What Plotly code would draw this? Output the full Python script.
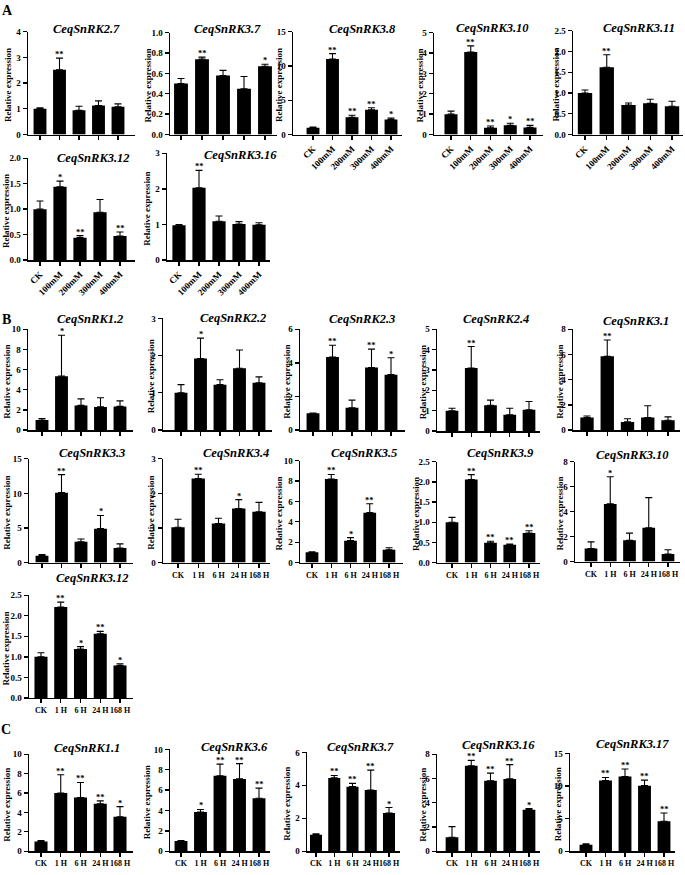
import plotly.graph_objects as go

W, H = 685, 875
FONT = "Liberation Serif"

conc_labels = ["CK", "100mM", "200mM", "300mM", "400mM"]
time_labels = ["CK", "1 H", "6 H", "24 H", "168 H"]

# ---------------- data (mean, SD, significance) ----------------
# Panel A (salt concentration)
a_snrk2_7 = [1.00, 2.52, 0.94, 1.13, 1.08]
a_snrk2_7_sd = [0.04, 0.45, 0.16, 0.18, 0.11]
a_snrk2_7_sig = ["", "**", "", "", ""]

a_snrk3_7 = [0.50, 0.74, 0.58, 0.45, 0.67]
a_snrk3_7_sd = [0.05, 0.02, 0.05, 0.12, 0.02]
a_snrk3_7_sig = ["", "**", "", "", "*"]

a_snrk3_8 = [1.0, 11.0, 2.5, 3.6, 2.2]
a_snrk3_8_sd = [0.1, 0.8, 0.3, 0.3, 0.2]
a_snrk3_8_sig = ["", "**", "**", "**", "*"]

a_snrk3_10 = [1.0, 4.05, 0.33, 0.45, 0.35]
a_snrk3_10_sd = [0.15, 0.30, 0.09, 0.10, 0.10]
a_snrk3_10_sig = ["", "**", "**", "*", "**"]

a_snrk3_11 = [1.0, 1.62, 0.71, 0.75, 0.68]
a_snrk3_11_sd = [0.07, 0.30, 0.05, 0.10, 0.12]
a_snrk3_11_sig = ["", "**", "", "", ""]

a_snrk3_12 = [1.0, 1.44, 0.44, 0.94, 0.47]
a_snrk3_12_sd = [0.16, 0.11, 0.04, 0.25, 0.08]
a_snrk3_12_sig = ["", "*", "**", "", "**"]

a_snrk3_16 = [0.98, 2.03, 1.09, 1.01, 0.99]
a_snrk3_16_sd = [0.02, 0.49, 0.15, 0.07, 0.06]
a_snrk3_16_sig = ["", "**", "", "", ""]

# Panel B (time course)
b_snrk1_2 = [1.0, 5.35, 2.45, 2.30, 2.35]
b_snrk1_2_sd = [0.15, 4.05, 0.65, 0.90, 0.55]
b_snrk1_2_sig = ["", "*", "", "", ""]

b_snrk2_2 = [1.0, 1.92, 1.22, 1.66, 1.27]
b_snrk2_2_sd = [0.22, 0.55, 0.13, 0.49, 0.16]
b_snrk2_2_sig = ["", "*", "", "", ""]

b_snrk2_3 = [1.0, 4.35, 1.33, 3.72, 3.30]
b_snrk2_3_sd = [0.02, 0.70, 0.45, 1.10, 1.00]
b_snrk2_3_sig = ["", "**", "", "**", "*"]

b_snrk2_4 = [1.0, 3.10, 1.27, 0.80, 1.05]
b_snrk2_4_sd = [0.12, 1.05, 0.25, 0.32, 0.40]
b_snrk2_4_sig = ["", "**", "", "", ""]

b_snrk3_1 = [1.0, 5.85, 0.65, 1.00, 0.78]
b_snrk3_1_sd = [0.12, 1.30, 0.25, 0.93, 0.27]
b_snrk3_1_sig = ["", "**", "", "", ""]

b_snrk3_3 = [1.0, 10.1, 3.0, 4.9, 2.1]
b_snrk3_3_sd = [0.15, 2.6, 0.4, 1.9, 0.6]
b_snrk3_3_sig = ["", "**", "", "*", ""]

b_snrk3_4 = [1.02, 2.43, 1.13, 1.56, 1.47]
b_snrk3_4_sd = [0.23, 0.12, 0.15, 0.26, 0.27]
b_snrk3_4_sig = ["", "**", "", "*", ""]

b_snrk3_5 = [1.0, 8.2, 2.15, 4.9, 1.25]
b_snrk3_5_sd = [0.05, 0.45, 0.30, 0.87, 0.20]
b_snrk3_5_sig = ["", "**", "*", "**", ""]

b_snrk3_9 = [1.0, 2.06, 0.49, 0.44, 0.73]
b_snrk3_9_sd = [0.12, 0.12, 0.04, 0.02, 0.06]
b_snrk3_9_sig = ["", "**", "**", "**", "**"]

b_snrk3_10 = [1.05, 4.62, 1.70, 2.70, 0.60]
b_snrk3_10_sd = [0.53, 2.18, 0.58, 2.42, 0.35]
b_snrk3_10_sig = ["", "*", "", "", ""]

b_snrk3_12 = [1.0, 2.21, 1.19, 1.56, 0.79]
b_snrk3_12_sd = [0.10, 0.12, 0.06, 0.06, 0.04]
b_snrk3_12_sig = ["", "**", "*", "**", "*"]

# Panel C (time course)
c_snrk1_1 = [1.0, 6.0, 5.55, 4.9, 3.55]
c_snrk1_1_sd = [0.10, 1.90, 1.55, 0.30, 1.05]
c_snrk1_1_sig = ["", "**", "**", "**", "*"]

c_snrk3_6 = [1.0, 3.85, 7.4, 7.1, 5.2]
c_snrk3_6_sd = [0.05, 0.25, 1.15, 1.50, 1.00]
c_snrk3_6_sig = ["", "*", "**", "**", "**"]

c_snrk3_7 = [1.0, 4.45, 3.92, 3.72, 2.32]
c_snrk3_7_sd = [0.05, 0.15, 0.20, 1.20, 0.33]
c_snrk3_7_sig = ["", "**", "**", "**", "*"]

c_snrk3_16 = [1.15, 7.05, 5.82, 5.97, 3.42]
c_snrk3_16_sd = [0.88, 0.45, 0.63, 1.18, 0.10]
c_snrk3_16_sig = ["", "**", "**", "**", "*"]

c_snrk3_17 = [1.0, 10.85, 11.45, 10.05, 4.6]
c_snrk3_17_sd = [0.15, 0.45, 1.15, 0.85, 1.25]
c_snrk3_17_sig = ["", "**", "**", "**", "**"]

# ---------------- panel definitions ----------------
# geometry (pixels): left axis, first bar centre, last bar centre, right end, top, bottom,
#                    title x, title y, y-label x
panels = [
    ("CeqSnRK2.7", conc_labels, a_snrk2_7, a_snrk2_7_sd, a_snrk2_7_sig, 4, 1, "", False,
     (28, 40, 118, 135, 27, 131, 87, 24, 8)),
    ("CeqSnRK3.7", conc_labels, a_snrk3_7, a_snrk3_7_sd, a_snrk3_7_sig, 1.0, 0.2, ".1f", False,
     (170, 181, 265, 277, 28, 131, 227, 24, 148)),
    ("CeqSnRK3.8", conc_labels, a_snrk3_8, a_snrk3_8_sd, a_snrk3_8_sig, 15, 5, "", True,
     (293, 313, 391, 402, 27, 131, 362, 24, 279)),
    ("CeqSnRK3.10", conc_labels, a_snrk3_10, a_snrk3_10_sd, a_snrk3_10_sig, 5, 1, "", True,
     (434, 451, 530, 543, 28, 131, 492, 23, 420)),
    ("CeqSnRK3.11", conc_labels, a_snrk3_11, a_snrk3_11_sd, a_snrk3_11_sig, 2.5, 0.5, ".1f", True,
     (573, 585, 672, 683, 26, 131, 639, 23, 556)),
    ("CeqSnRK3.12", conc_labels, a_snrk3_12, a_snrk3_12_sd, a_snrk3_12_sig, 2.0, 0.5, ".1f", True,
     (28, 40, 120, 135, 155, 258, 93, 155, 6)),
    ("CeqSnRK3.16", conc_labels, a_snrk3_16, a_snrk3_16_sd, a_snrk3_16_sig, 3, 1, "", True,
     (167, 179, 259, 270, 150, 258, 240, 152, 147)),
    ("CeqSnRK1.2", time_labels, b_snrk1_2, b_snrk1_2_sd, b_snrk1_2_sig, 10, 2, "", False,
     (28, 42, 120, 133, 328, 430, 90, 318, 7)),
    ("CeqSnRK2.2", time_labels, b_snrk2_2, b_snrk2_2_sd, b_snrk2_2_sig, 3, 1, "", False,
     (163, 181, 259, 272, 317, 430, 233, 317, 151)),
    ("CeqSnRK2.3", time_labels, b_snrk2_3, b_snrk2_3_sd, b_snrk2_3_sig, 6, 2, "", False,
     (300, 313, 391, 405, 328, 430, 362, 318, 287)),
    ("CeqSnRK2.4", time_labels, b_snrk2_4, b_snrk2_4_sd, b_snrk2_4_sig, 5, 1, "", False,
     (437, 452, 529, 540, 328, 431, 496, 318, 423)),
    ("CeqSnRK3.1", time_labels, b_snrk3_1, b_snrk3_1_sd, b_snrk3_1_sig, 8, 2, "", False,
     (573, 587, 668, 680, 328, 430, 636, 320, 560)),
    ("CeqSnRK3.3", time_labels, b_snrk3_3, b_snrk3_3_sd, b_snrk3_3_sig, 15, 5, "", False,
     (29, 42, 120, 133, 459, 564, 92, 453, 7)),
    ("CeqSnRK3.4", time_labels, b_snrk3_4, b_snrk3_4_sd, b_snrk3_4_sig, 3, 1, "", True,
     (163, 178, 259, 270, 459, 564, 236, 453, 151)),
    ("CeqSnRK3.5", time_labels, b_snrk3_5, b_snrk3_5_sd, b_snrk3_5_sig, 10, 2, "", True,
     (300, 312, 389, 403, 461, 564, 364, 453, 279)),
    ("CeqSnRK3.9", time_labels, b_snrk3_9, b_snrk3_9_sd, b_snrk3_9_sig, 2.5, 0.5, ".1f", True,
     (437, 452, 529, 540, 462, 564, 500, 453, 416)),
    ("CeqSnRK3.10", time_labels, b_snrk3_10, b_snrk3_10_sd, b_snrk3_10_sig, 8, 2, "", True,
     (575, 591, 668, 680, 462, 563, 632, 455, 560)),
    ("CeqSnRK3.12", time_labels, b_snrk3_12, b_snrk3_12_sd, b_snrk3_12_sig, 2.5, 0.5, ".1f", True,
     (29, 41, 120, 133, 597, 701, 92, 580, 6)),
    ("CeqSnRK1.1", time_labels, c_snrk1_1, c_snrk1_1_sd, c_snrk1_1_sig, 10, 2, "", True,
     (29, 41, 120, 133, 758, 856, 87, 752, 7)),
    ("CeqSnRK3.6", time_labels, c_snrk3_6, c_snrk3_6_sd, c_snrk3_6_sig, 10, 2, "", True,
     (170, 181, 259, 270, 753, 856, 234, 751, 147)),
    ("CeqSnRK3.7", time_labels, c_snrk3_7, c_snrk3_7_sd, c_snrk3_7_sig, 6, 2, "", True,
     (307, 316, 389, 400, 756, 856, 360, 751, 287)),
    ("CeqSnRK3.16", time_labels, c_snrk3_16, c_snrk3_16_sd, c_snrk3_16_sig, 8, 2, "", True,
     (437, 452, 529, 540, 758, 856, 498, 749, 423)),
    ("CeqSnRK3.17", time_labels, c_snrk3_17, c_snrk3_17_sd, c_snrk3_17_sig, 15, 5, "", True,
     (570, 586, 664, 675, 757, 856, 632, 748, 558)),
]

fig = go.Figure()
layout = {}
annotations = []


def px(x):
    return x / W


def py(y):
    return 1 - y / H


for i, (name, cats, mean, sd, sig, ymax, dtick, fmt, showx, geo) in enumerate(panels):
    k = i + 1
    left, first, last, right, top, bottom, tx, ty, lx = geo
    sp = (last - first) / (len(cats) - 1)
    xr = [-(first - left) / sp, (len(cats) - 1) + (right - last) / sp]

    fig.add_trace(go.Bar(
        x=list(range(len(cats))), y=mean,
        marker=dict(color="#000000", line=dict(width=0)),
        error_y=dict(type="data", array=sd, arrayminus=[0] * len(sd), symmetric=False,
                     color="#000000", thickness=1.1, width=3.5),
        xaxis=f"x{k}", yaxis=f"y{k}", showlegend=False, hoverinfo="skip",
    ))

    sfx = "" if k == 1 else str(k)
    is_conc = cats is conc_labels
    layout[f"xaxis{sfx}"] = dict(
        domain=[px(left), px(right)], anchor=f"y{k}", range=xr,
        tickmode="array", tickvals=list(range(len(cats))), ticktext=cats,
        showticklabels=showx, tickangle=-45 if is_conc else 0,
        showline=True, linecolor="black", linewidth=1.5,
        ticks="outside", ticklen=4, tickwidth=1.3, tickcolor="black",
        showgrid=False, zeroline=False, fixedrange=True,
        tickfont=dict(family=FONT, size=9 if is_conc else 8, color="black", weight="bold"),
    )
    layout[f"yaxis{sfx}"] = dict(
        domain=[py(bottom), py(top)], anchor=f"x{k}", range=[0, ymax],
        dtick=dtick, tick0=0, tickformat=fmt,
        showline=True, linecolor="black", linewidth=1.5,
        ticks="outside", ticklen=4, tickwidth=1.3, tickcolor="black",
        showgrid=False, zeroline=False, fixedrange=True,
        tickfont=dict(family=FONT, size=9, color="black", weight="bold"),
    )

    # title
    annotations.append(dict(
        text=name, x=px(tx), y=py(ty), xref="paper", yref="paper",
        xanchor="center", yanchor="middle", showarrow=False,
        font=dict(family=FONT, size=12.5, color="black", weight="bold", style="italic"),
    ))
    # y label
    annotations.append(dict(
        text="Relative expression", x=px(lx), y=py((top + bottom) / 2 + 2),
        xref="paper", yref="paper", xanchor="center", yanchor="middle",
        textangle=-90, showarrow=False,
        font=dict(family=FONT, size=9, color="black", weight="bold"),
    ))
    # significance
    for j, s in enumerate(sig):
        if s:
            annotations.append(dict(
                text=s, x=j, y=mean[j] + sd[j], xref=f"x{k}", yref=f"y{k}",
                xanchor="center", yanchor="bottom", yshift=-3, showarrow=False,
                font=dict(family=FONT, size=8.5, color="black", weight="bold"),
            ))

for letter, lx, ly in [("A", 7, 6), ("B", 6, 318), ("C", 6, 733)]:
    annotations.append(dict(
        text=letter, x=px(lx), y=py(ly), xref="paper", yref="paper",
        xanchor="center", yanchor="middle", showarrow=False,
        font=dict(family=FONT, size=14, color="black", weight="bold"),
    ))

fig.update_layout(
    width=W, height=H, autosize=False,
    margin=dict(l=0, r=0, t=0, b=0),
    paper_bgcolor="white", plot_bgcolor="white",
    bargap=0.34, showlegend=False,
    annotations=annotations,
    **layout,
)

fig.write_html("out.html",
               config={"displayModeBar": False, "staticPlot": True},
               post_script="document.body.style.margin='0px';document.body.style.overflow='hidden';")
